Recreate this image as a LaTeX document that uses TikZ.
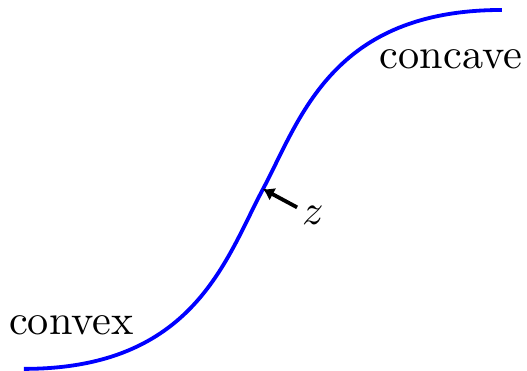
\documentclass[tikz,border=0pt]{standalone}
\usepackage{tikz}
\usetikzlibrary{arrows.meta}

\begin{document}
\begin{tikzpicture}[
  crv/.style={line width=0.9pt,blue},
  ar/.style={-{Latex[length=2.6pt,width=3.4pt]},line width=0.9pt,black},
  lbl/.style={anchor=base,inner sep=0pt},
]
\useasboundingbox (0,0) rectangle (4.38,3.083);

% the s-shaped curve, bending at the point z
\coordinate (lo) at (0.199,0.017);
\coordinate (mid) at (2.186,1.512);
\coordinate (hi) at (4.172,3.0);
\draw[crv] (lo) .. controls (1.612,0.017) and (1.873,0.926) .. (mid)
                .. controls (2.498,2.099) and (2.759,3.0) .. (hi);

\node[lbl] (cvx) at (0.594,0.299) {convex};
\node[lbl] (ccv) at (3.748,2.510) {concave};

\node[anchor=base,inner sep=1pt] (z) at (2.601,1.213) {$z$};
\draw[ar] (z) -- (mid);
\end{tikzpicture}
\end{document}
